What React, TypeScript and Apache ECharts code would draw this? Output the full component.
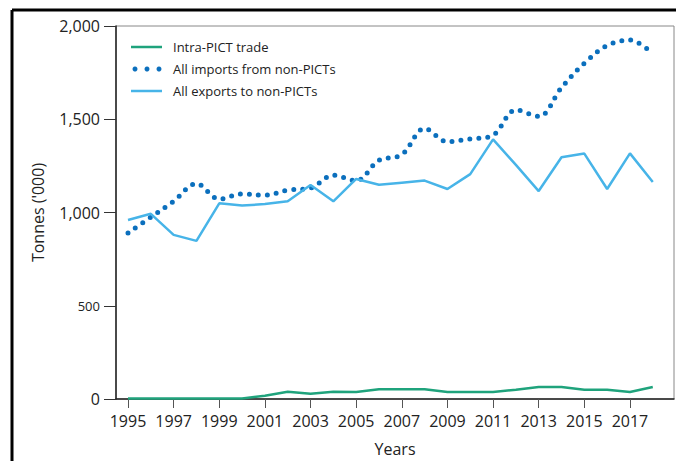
import React, { useEffect, useRef } from "react";
import * as echarts from "echarts";

const years = [1995,1996,1997,1998,1999,2000,2001,2002,2003,2004,2005,2006,2007,2008,2009,2010,2011,2012,2013,2014,2015,2016,2017,2018];
const intraPict = [3,3,3,3,3,3,18,39,28,39,38,52,52,52,38,38,38,50,64,64,50,50,38,64];
const importsNonPict = [890,975,1060,1155,1072,1100,1093,1120,1131,1200,1170,1280,1310,1450,1380,1395,1415,1550,1515,1670,1800,1895,1925,1850];
const exportsNonPict = [960,993,880,848,1049,1037,1045,1060,1147,1060,1180,1149,1160,1171,1126,1206,1392,1255,1115,1296,1316,1126,1317,1164];
const xTickYears = [1995,1997,1999,2001,2003,2005,2007,2009,2011,2013,2015,2017];
const seriesNames = ["Intra-PICT trade", "All imports from non-PICTs", "All exports to non-PICTs"];

const FONT = "'Open Sans', 'Liberation Sans', sans-serif";
const GREEN = "#1fa37c";
const DARKBLUE = "#0b6fbd";
const LIGHTBLUE = "#47b4e8";

export default function App() {
  const ref = useRef<HTMLDivElement>(null);
  useEffect(() => {
    document.body.style.margin = "0";
    const chart = echarts.init(ref.current!, undefined, { renderer: "svg" });
    const pair = (vals: number[]) => years.map((y, i) => [y, vals[i]]);
    const legendText = (text: string, y: number) => ({
      type: "text", x: 173, y,
      style: { text, fill: "#222", font: `13px ${FONT}`, verticalAlign: "middle", align: "left" },
    });
    chart.setOption({
      animation: false,
      textStyle: { fontFamily: FONT },
      grid: { left: 116, top: 26, right: 2, bottom: 62, show: true, borderColor: "#888", borderWidth: 1, outerBoundsMode: "none" },
      xAxis: {
        type: "value", min: 1994.474, max: 2018.93,
        name: "Years", nameLocation: "middle", nameGap: 42,
        nameTextStyle: { fontSize: 16, color: "#222" },
        axisLine: { show: true, lineStyle: { color: "#222", width: 1.5 } },
        axisTick: { show: true, length: 9, customValues: xTickYears, lineStyle: { color: "#555" } },
        axisLabel: { customValues: xTickYears, fontSize: 16, color: "#222", margin: 14, formatter: (v: number) => String(v) },
        splitLine: { show: false },
      },
      yAxis: {
        type: "value", min: 0, max: 2000, interval: 500,
        name: "Tonnes ('000)", nameLocation: "middle", nameGap: 70,
        nameTextStyle: { fontSize: 16, color: "#222" },
        axisLine: { show: true, lineStyle: { color: "#222", width: 1.5 } },
        axisTick: { show: true, length: 12, lineStyle: { color: "#333" } },
        axisLabel: {
          margin: 16, color: "#222",
          formatter: (v: number) => v === 500 ? `{s|${v}}` : `{b|${v.toLocaleString("en-US")}}`,
          rich: { s: { fontSize: 13, color: "#222" }, b: { fontSize: 16, color: "#222" } },
        },
        splitLine: { show: false },
      },
      series: [
        {
          name: seriesNames[0], type: "line", data: pair(intraPict), symbol: "none",
          lineStyle: { color: GREEN, width: 2.5 }, itemStyle: { color: GREEN },
        },
        {
          name: seriesNames[1], type: "line", data: pair(importsNonPict), symbol: "none", smooth: 0.35,
          lineStyle: { color: DARKBLUE, width: 5, type: [0, 9], cap: "round" }, itemStyle: { color: DARKBLUE },
        },
        {
          name: seriesNames[2], type: "line", data: pair(exportsNonPict), symbol: "none",
          lineStyle: { color: LIGHTBLUE, width: 2.5 }, itemStyle: { color: LIGHTBLUE },
        },
      ],
      graphic: [
        { type: "line", shape: { x1: 12, y1: 10, x2: 676, y2: 10 }, style: { stroke: "#000", lineWidth: 3 } },
        { type: "line", shape: { x1: 12, y1: 10, x2: 12, y2: 461 }, style: { stroke: "#000", lineWidth: 3 } },
        { type: "line", shape: { x1: 131, y1: 47, x2: 162, y2: 47 }, style: { stroke: GREEN, lineWidth: 2.5 } },
        { type: "circle", shape: { cx: 135, cy: 69, r: 2.5 }, style: { fill: DARKBLUE } },
        { type: "circle", shape: { cx: 147, cy: 69, r: 2.5 }, style: { fill: DARKBLUE } },
        { type: "circle", shape: { cx: 159, cy: 69, r: 2.5 }, style: { fill: DARKBLUE } },
        { type: "line", shape: { x1: 131, y1: 91, x2: 162, y2: 91 }, style: { stroke: LIGHTBLUE, lineWidth: 2.5 } },
        legendText(seriesNames[0], 47),
        legendText(seriesNames[1], 69),
        legendText(seriesNames[2], 91),
      ],
    });
    return () => chart.dispose();
  }, []);
  return <div ref={ref} style={{ width: 676, height: 461 }} />;
}
